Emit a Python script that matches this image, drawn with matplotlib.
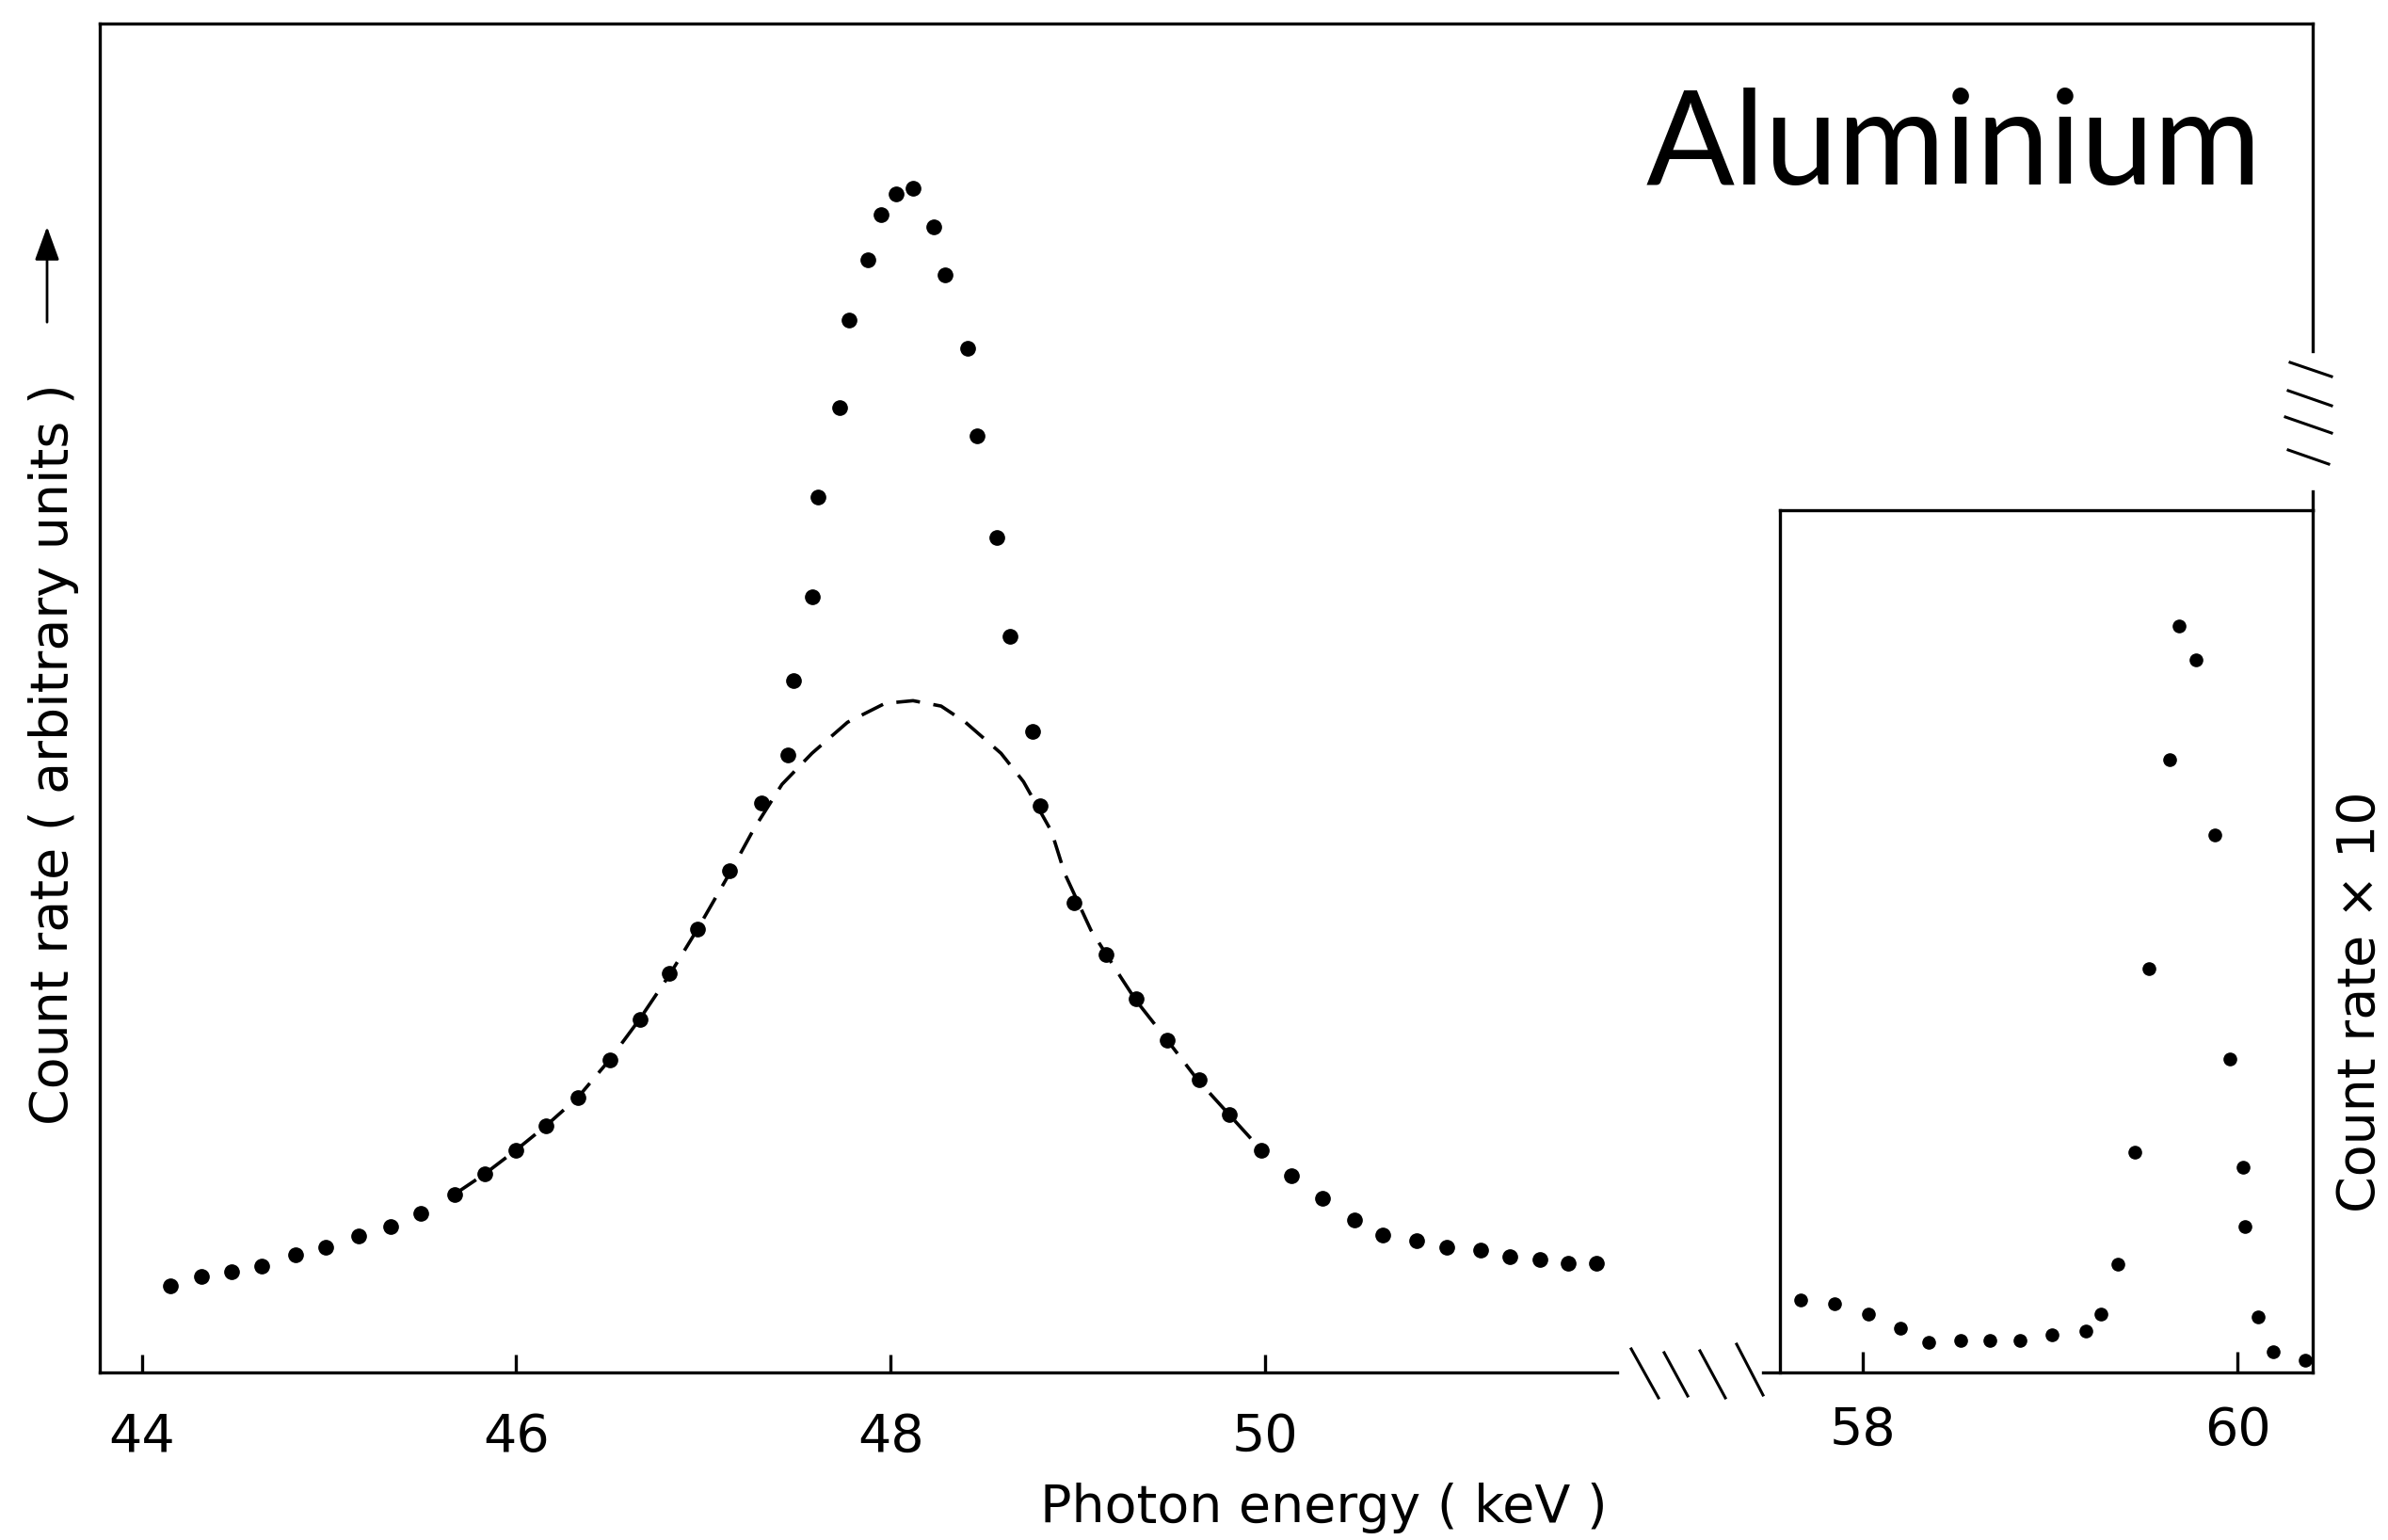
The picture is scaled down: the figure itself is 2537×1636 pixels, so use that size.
import numpy as np
import matplotlib.pyplot as plt
from matplotlib.lines import Line2D

# main scan (keV, arbitrary units)
energy = [44.15, 44.32, 44.48, 44.64, 44.82, 44.98, 45.16, 45.33, 45.49, 45.67,
          45.83, 46.00, 46.16, 46.33, 46.50, 46.66, 46.82,
          46.97, 47.14, 47.31, 47.45, 47.48, 47.58, 47.61, 47.73, 47.78, 47.88,
          47.95, 48.03, 48.12,
          48.23, 48.29, 48.41, 48.46, 48.57, 48.64, 48.76, 48.80, 48.98, 49.15,
          49.31, 49.48, 49.65, 49.81, 49.98, 50.14, 50.31, 50.48, 50.63, 50.81,
          50.97, 51.15, 51.31, 51.47, 51.62, 51.77]
counts = [6.4, 7.1, 7.5, 7.9, 8.7, 9.3, 10.1, 10.8, 11.8, 13.2,
          14.7, 16.5, 18.3, 20.4, 23.2, 26.2, 29.6,
          32.9, 37.2, 42.2, 45.8, 51.3, 57.5, 64.9, 71.5, 78.0, 82.5,
          85.8, 87.4, 87.8,
          84.9, 81.4, 75.9, 69.4, 61.9, 54.6, 47.5, 42.0, 34.8, 31.0,
          27.7, 24.6, 21.7, 19.1, 16.5, 14.6, 12.9, 11.3, 10.2, 9.8,
          9.3, 9.1, 8.6, 8.4, 8.1, 8.1]

# dashed curve
fit_energy = [45.68, 45.83, 46.00, 46.16, 46.33, 46.50, 46.66, 46.82, 46.97, 47.14,
              47.27, 47.42, 47.58, 47.77, 47.97, 48.12, 48.27, 48.40, 48.59, 48.71,
              48.86, 48.93, 49.07, 49.23, 49.31, 49.48, 49.64, 49.81, 49.98]
fit_counts = [13.3, 14.7, 16.5, 18.3, 20.4, 23.2, 26.2, 29.5, 32.9, 37.0,
              40.3, 43.6, 45.9, 48.2, 49.6, 49.8, 49.4, 48.2, 45.9, 43.8,
              40.1, 37.0, 32.8, 29.3, 27.6, 24.6, 21.7, 19.1, 16.5]

# inset, count rate x 10
inset_energy = [57.67, 57.85, 58.03, 58.20, 58.35, 58.52, 58.68, 58.84, 59.01, 59.19,
                59.27, 59.36, 59.45, 59.53, 59.64, 59.69, 59.78, 59.88, 59.96, 60.03,
                60.04, 60.11, 60.19, 60.36]
inset_counts = [5.4, 5.1, 4.3, 3.3, 2.2, 2.4, 2.4, 2.4, 2.8, 3.1,
                4.3, 8.0, 16.3, 29.9, 45.4, 55.3, 52.8, 39.8, 23.2, 15.2,
                10.8, 4.1, 1.5, 0.9]

main_ticks = [44, 46, 48, 50]
inset_ticks = [58, 60]

W, H = 2537, 1636
def fx(px):
    return px / W
def fy(py):
    return 1 - py / H

plt.rcParams['font.family'] = ['DejaVu Sans']
LW = 2.4

fig = plt.figure(figsize=(W / 100, H / 100), dpi=100)

ax = fig.add_axes([fx(106), fy(1458), fx(2457) - fx(106), fy(25) - fy(1458)])
ax.set_xlim(43.775, 55.598)
ax.set_ylim(0, 100)
for s in ax.spines.values():
    s.set_linewidth(LW)
ax.spines['bottom'].set_bounds(43.775, 51.882)
ax.spines['right'].set_bounds(75.7, 100)
ax.plot([1, 1], [63.9, 65.3], transform=ax.get_yaxis_transform(),
        color='k', lw=LW, clip_on=False)

ax.plot(fit_energy, fit_counts, color='k', lw=2.6, dashes=(7, 4), zorder=2)
ax.plot(energy, counts, 'o', ms=11, color='k', ls='none', zorder=3)

ax.set_xticks(main_ticks)
ax.set_xticklabels([str(t) for t in main_ticks])
ax.set_yticks([])
ax.tick_params(axis='x', direction='in', length=14, width=LW, pad=30, labelsize=40)

# inset
ax2 = fig.add_axes([fx(1873), fy(1458), fx(2457) - fx(1873), fy(542) - fy(1458)])
ax2.set_xlim(57.467, 60.402)
ax2.set_ylim(0, 63.9)
ax2.patch.set_alpha(0)
for s in ax2.spines.values():
    s.set_linewidth(LW)
ax2.spines['left'].set_position(('data', 57.558))
ax2.spines['top'].set_bounds(57.558, 60.402)
ax2.plot(inset_energy, inset_counts, 'o', ms=9.5, color='k', ls='none', clip_on=False)
ax2.set_xticks(inset_ticks)
ax2.set_xticklabels([str(t) for t in inset_ticks])
ax2.set_yticks([])
ax2.tick_params(axis='x', direction='in', length=16, width=LW, pad=25, labelsize=40)

# axis break marks
bottom_breaks = [(1733, 1433, 1762, 1485), (1768, 1437, 1793, 1483),
                 (1806, 1435, 1833, 1485), (1845, 1428, 1873, 1482)]
right_breaks = [(2433, 385, 2477, 400), (2431, 415, 2477, 431),
                (2428, 443, 2477, 460), (2431, 478, 2474, 493)]
for x0, y0, x1, y1 in bottom_breaks + right_breaks:
    fig.add_artist(Line2D([fx(x0), fx(x1)], [fy(y0), fy(y1)], color='k', lw=2.2))

# labels
fig.text(fx(1406), fy(1602), 'Photon energy ( keV )', fontsize=40,
         ha='center', va='center')
fig.text(fx(57), fy(801), 'Count rate ( arbitrary units )', fontsize=40,
         rotation=90, ha='center', va='center')
ax.annotate('', xy=(fx(50), fy(238)), xytext=(fx(50), fy(345)),
            xycoords='figure fraction', textcoords='figure fraction',
            arrowprops=dict(arrowstyle='-|>,head_length=1.1,head_width=0.4',
                            color='k', lw=2, mutation_scale=20))
fig.text(fx(2508), fy(1064), 'Count rate \u00d7 10', fontsize=40,
         rotation=90, ha='center', va='center')
fig.text(fx(2403), fy(196), 'Aluminium', fontsize=100, family=['Lato', 'DejaVu Sans'],
         ha='right', va='baseline')

fig.savefig('out.png', dpi=100)
